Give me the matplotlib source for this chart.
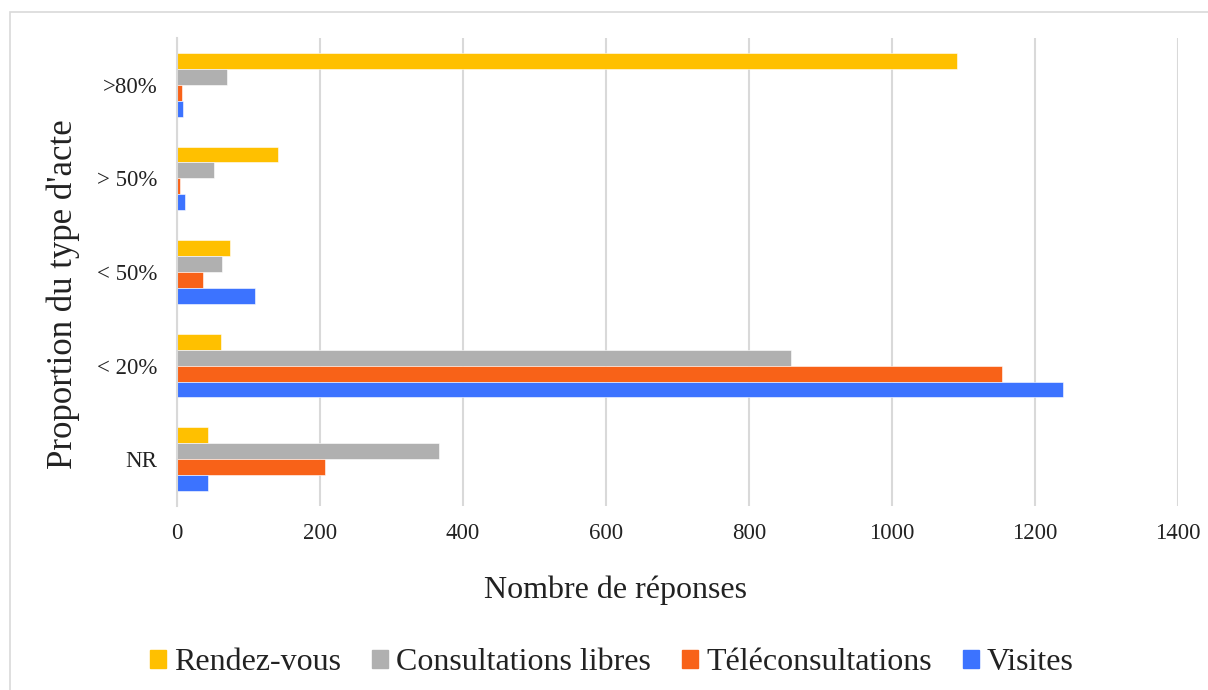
import matplotlib.pyplot as plt
from matplotlib.patches import Rectangle, Patch
import numpy as np

plt.rcParams['font.family'] = ['Liberation Serif', 'DejaVu Serif']

categories = ['NR', '< 20%', '< 50%', '> 50%', '>80%']
series = ['Rendez-vous', 'Consultations libres', 'Téléconsultations', 'Visites']
rendez_vous = [43, 61, 74, 141, 1091]
consultations_libres = [366, 859, 63, 52, 70]
teleconsultations = [207, 1154, 37, 4, 7]
visites = [43, 1239, 109, 11, 8]
colors = ['#FFC000', '#B0B0B0', '#F86218', '#3C73FF']

fig = plt.figure(figsize=(12.08, 6.9), dpi=100)
ax = fig.add_axes([177 / 1208, 1 - 506 / 690, 1001 / 1208, 468 / 690])

# light frame around the chart
fig.patches.append(Rectangle((10 / 1208, -0.1), 1.2, 1 - 12 / 690 + 0.1,
                             transform=fig.transFigure, fill=False,
                             edgecolor='#D9D9D9', linewidth=1.2))

y = np.arange(len(categories))
h = 0.17
values = [rendez_vous, consultations_libres, teleconsultations, visites]
for i, (vals, col, name) in enumerate(zip(values, colors, series)):
    offset = (1.5 - i) * h
    ax.barh(y + offset, vals, height=h, color=col, label=name,
            edgecolor='white', linewidth=0.4)

ax.set_xlim(0, 1400)
ax.set_ylim(-0.5, len(categories) - 0.5)
ax.set_xticks(range(0, 1401, 200))
ax.set_yticks(y)
ax.set_yticklabels(categories)
ax.tick_params(axis='both', length=0, labelsize=16.5, colors='#222222')
ax.tick_params(axis='x', pad=12)
ax.tick_params(axis='y', pad=14)

ax.grid(axis='x', color='#D9D9D9', linewidth=1.5)
ax.set_axisbelow(True)
for s in ['top', 'right', 'bottom']:
    ax.spines[s].set_visible(False)
ax.spines['left'].set_color('#D9D9D9')
ax.spines['left'].set_linewidth(1.5)

ax.set_xlabel('Nombre de réponses', fontsize=23, color='#222222')
ax.xaxis.set_label_coords(0.4376, -0.148)
ax.set_ylabel("Proportion du type d'acte", fontsize=25, color='#222222')
ax.yaxis.set_label_coords(-0.097, 0.453)

handles = [Patch(color=c, label=s) for c, s in zip(colors, series)]
fig.legend(handles=handles, loc='center', bbox_to_anchor=(612 / 1208, 1 - 663 / 690),
           ncol=4, frameon=False, fontsize=23, handlelength=0.5, handleheight=0.5,
           handletextpad=0.25, columnspacing=0.97, labelcolor='#222222')

fig.savefig('out.png', dpi=100)
